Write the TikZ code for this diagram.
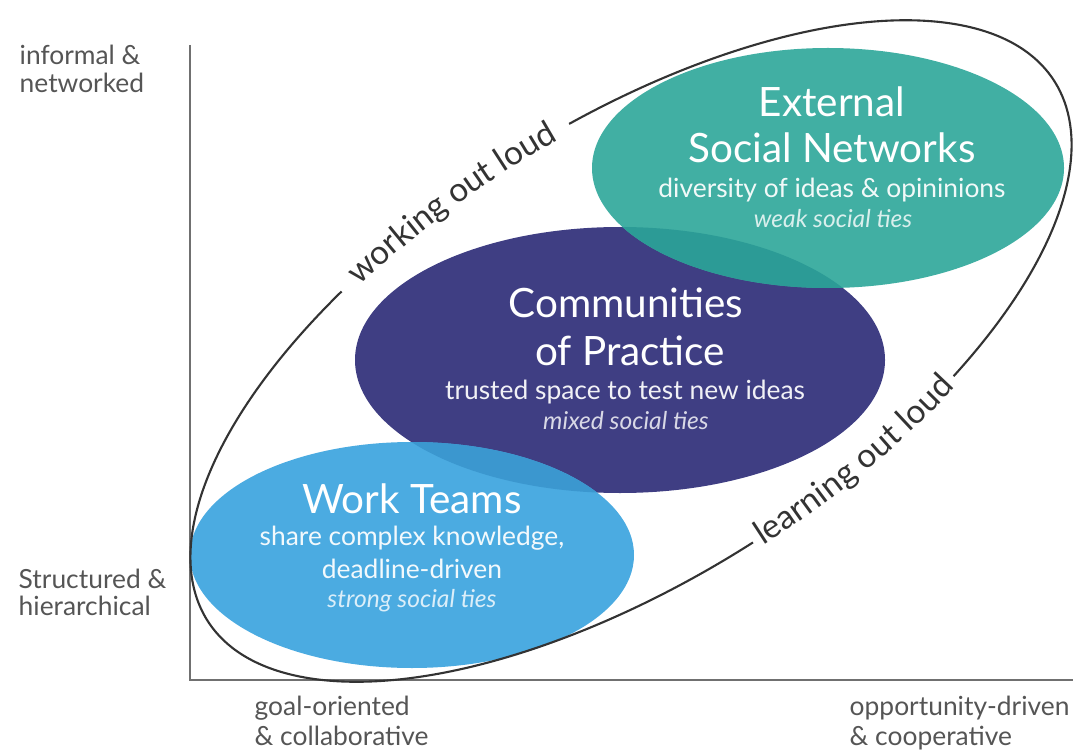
\documentclass[tikz,border=0pt]{standalone}
\usepackage{fontspec}
\setmainfont{Lato}
\usetikzlibrary{decorations.text}

\definecolor{teamblue}{HTML}{4BABE1}
\definecolor{practiceindigo}{HTML}{3F3E83}
\definecolor{networkteal}{HTML}{41AFA3}
\definecolor{teamoverlap}{HTML}{3B97CF}
\definecolor{networkoverlap}{HTML}{2C9B96}
\definecolor{axisgray}{HTML}{707070}
\definecolor{labelgray}{HTML}{555555}
\definecolor{loopgray}{HTML}{333333}

\tikzset{
  ellipsetitle/.style={anchor=base, inner sep=0pt, text=white, font=\fontsize{11.5}{13}\selectfont},
  ellipsenote/.style={anchor=base, inner sep=0pt, text=white, text opacity=0.93, font=\fontsize{7.5}{9}\selectfont},
  tienote/.style={anchor=base, inner sep=0pt, text=white, text opacity=0.8, font=\fontsize{7}{8.5}\selectfont\itshape},
  axislabel/.style={anchor=base west, inner sep=0pt, text=labelgray, font=\fontsize{7.5}{9}\selectfont},
  axisline/.style={draw=axisgray, line width=0.7pt},
  loopline/.style={draw=loopgray, line width=0.6pt},
}

\begin{document}
\begin{tikzpicture}[x=0.01cm, y=0.01cm]
\useasboundingbox (0,0) rectangle (1073,751);

	% axes
	\coordinate (origin) at (190,71);
	\coordinate (ytop) at (190,706);
	\coordinate (xend) at (1073,71);
	\draw[axisline] (ytop) -- (origin) -- (xend);

	% the three groups
	\fill[practiceindigo] (620,391) ellipse [x radius=265, y radius=133];
	\fill[teamblue] (412,196) ellipse [x radius=222, y radius=113];
	\fill[networkteal] (828,583) ellipse [x radius=236, y radius=120];
	\begin{scope}
		\clip (620,391) ellipse [x radius=265, y radius=133];
		\fill[teamoverlap] (412,196) ellipse [x radius=222, y radius=113];
		\fill[networkoverlap] (828,583) ellipse [x radius=236, y radius=120];
	\end{scope}

	% outer loop, open where its labels sit
	\begin{scope}[shift={(631,400)}, rotate=32.5]
		\draw[loopline] (-59:502 and 227) arc [start angle=-59, end angle=82, x radius=502, y radius=227];
		\draw[loopline] (115:502 and 227) arc [start angle=115, end angle=270, x radius=502, y radius=227];
		\path[decorate, decoration={text along path, text align=center, raise=-2.4pt,
			text={|\fontsize{9.5}{11}\selectfont\color{loopgray}|working out loud}}]
			(115:502 and 227) arc [start angle=115, end angle=82, x radius=502, y radius=227];
		\path[decorate, decoration={text along path, text align=center, raise=-2.4pt,
			text={|\fontsize{9.5}{11}\selectfont\color{loopgray}|learning out loud}}]
			(-90:502 and 227) arc [start angle=-90, end angle=-59, x radius=502, y radius=227];
	\end{scope}

	% External Social Networks
	\node[ellipsetitle] (esn1) at (832,634) {External};
	\node[ellipsetitle] (esn2) at (832,588) {Social Networks};
	\node[ellipsenote] (esn3) at (832,553) {diversity of ideas \& opininions};
	\node[tienote] (esn4) at (833,524) {weak social ties};

	% Communities of Practice
	\node[ellipsetitle] (cop1) at (626,433) {Communities};
	\node[ellipsetitle] (cop2) at (630,386) {of Practice};
	\node[ellipsenote] (cop3) at (625,352) {trusted space to test new ideas};
	\node[tienote] (cop4) at (626,322) {mixed social ties};

	% Work Teams
	\node[ellipsetitle] (wt1) at (412,238) {Work Teams};
	\node[ellipsenote] (wt2) at (412,206) {share complex knowledge,};
	\node[ellipsenote] (wt3) at (412,173) {deadline-driven};
	\node[tienote] (wt4) at (412,144) {strong social ties};

	% axis labels
	\node[axislabel] (ytop1) at (19,686) {informal \&};
	\node[axislabel] (ytop2) at (19,658) {networked};
	\node[axislabel] (ybot1) at (18,163) {Structured \&};
	\node[axislabel] (ybot2) at (18,136) {hierarchical};
	\node[axislabel] (xleft1) at (254,36) {goal-oriented};
	\node[axislabel] (xleft2) at (254,6) {\& collaborative};
	\node[axislabel] (xright1) at (849,36) {opportunity-driven};
	\node[axislabel] (xright2) at (849,6) {\& cooperative};
\end{tikzpicture}
\end{document}
